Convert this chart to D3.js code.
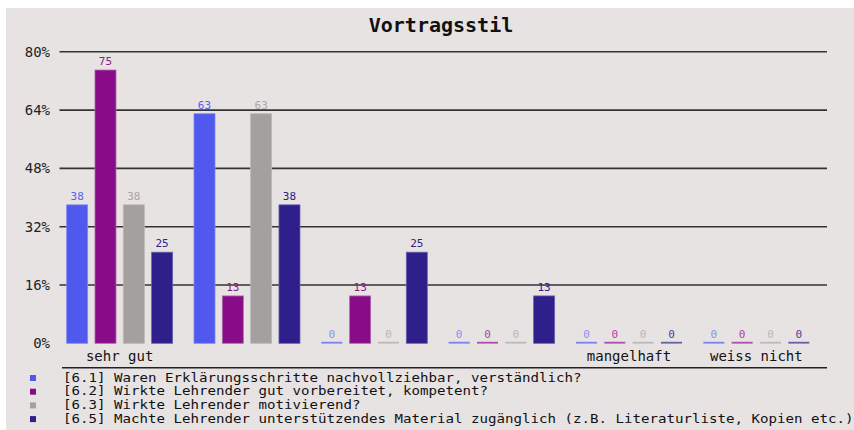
<!DOCTYPE html>
<html>
<head>
<meta charset="utf-8">
<script src="https://cdn.jsdelivr.net/npm/d3@7"></script>
<style>
  body { margin: 0; background: #fff; }
  svg { display: block; }
  text { font-family: "DejaVu Sans Mono", "Liberation Mono", monospace; }
</style>
</head>
<body>
<svg width="854" height="430"></svg>
<script>
var categories = ["sehr gut", "gut", "befriedigend", "ausreichend", "mangelhaft", "weiss nicht"];
var tickLabels = ["sehr gut", "", "", "", "mangelhaft", "weiss nicht"];
var seriesNames = [
  "[6.1] Waren Erklärungsschritte nachvollziehbar, verständlich?",
  "[6.2] Wirkte Lehrender gut vorbereitet, kompetent?",
  "[6.3] Wirkte Lehrender motivierend?",
  "[6.5] Machte Lehrender unterstützendes Material zugänglich (z.B. Literaturliste, Kopien etc.)?"
];
var values61 = [38, 63, 0, 0, 0, 0];
var values62 = [75, 13, 13, 0, 0, 0];
var values63 = [38, 63, 0, 0, 0, 0];
var values65 = [25, 38, 25, 13, 0, 0];
var yTicks = [0, 16, 32, 48, 64, 80];

var colors = ["#5058ee", "#880c88", "#a4a09f", "#2e1f8a"];
var strokes = ["#8088f2", "#b068b0", "#bcb8b8", "#6a62b0"];
var zeroColors = ["#7c82f2", "#aa50aa", "#bdbaba", "#6660aa"];
var labelColors = ["#5860ee", "#8a1a8a", "#aaa6a6", "#2e2088"];
var zeroLabelColors = ["#8a90f4", "#b040b0", "#bab6b6", "#4a40a0"];

var allValues = [values61, values62, values63, values65];
var series = seriesNames.map(function(name, i) {
  return {name: name, index: i, values: allValues[i]};
});

var svg = d3.select("svg");

svg.append("rect")
  .attr("x", 6).attr("y", 8)
  .attr("width", 848).attr("height", 422)
  .attr("fill", "#e7e3e3");

var y = d3.scaleLinear().domain([0, 80]).range([343.3, 51.8]);
var x0 = d3.scaleBand().domain(categories).range([63, 827]);
var x1 = d3.scaleBand().domain(d3.range(4)).range([0, 113.3])
  .paddingInner(0.258).paddingOuter(0.129);

// gridlines
svg.append("g").selectAll("line")
  .data(yTicks.filter(function(d) {return d > 0;}))
  .enter().append("line")
    .attr("x1", 59.5).attr("x2", 827)
    .attr("y1", function(d) {return y(d);})
    .attr("y2", function(d) {return y(d);})
    .attr("stroke", "#333")
    .attr("stroke-width", 1.6);

// y tick labels
svg.append("g").selectAll("text")
  .data(yTicks)
  .enter().append("text")
    .attr("x", 50)
    .attr("y", function(d) {return y(d);})
    .attr("dy", "0.36em")
    .attr("text-anchor", "end")
    .attr("font-size", 14)
    .attr("fill", "#222")
    .text(function(d) {return d + "%";});

// bars
var groups = svg.append("g").selectAll("g")
  .data(categories)
  .enter().append("g")
    .attr("transform", function(d) {return "translate(" + x0(d) + ",0)";});

groups.each(function(cat, ci) {
  var g = d3.select(this);
  var data = series.map(function(s) {return {s: s.index, v: s.values[ci]};});

  g.selectAll("rect")
    .data(data)
    .enter().append("rect")
      .attr("x", function(d) {return x1(d.s);})
      .attr("width", x1.bandwidth())
      .attr("y", function(d) {return d.v > 0 ? y(d.v) : y(0) - 1.5;})
      .attr("height", function(d) {return d.v > 0 ? y(0) - y(d.v) : 1.8;})
      .attr("fill", function(d) {return d.v > 0 ? colors[d.s] : zeroColors[d.s];})
      .attr("stroke", function(d) {return d.v > 0 ? strokes[d.s] : "none";})
      .attr("stroke-width", 0.8);

  g.selectAll("text")
    .data(data)
    .enter().append("text")
      .attr("x", function(d) {return x1(d.s) + x1.bandwidth() / 2;})
      .attr("y", function(d) {return y(d.v) - 5;})
      .attr("text-anchor", "middle")
      .attr("font-size", 11)
      .attr("fill", function(d) {return d.v > 0 ? labelColors[d.s] : zeroLabelColors[d.s];})
      .text(function(d) {return d.v;});
});

// x tick labels
svg.append("g").selectAll("text")
  .data(categories)
  .enter().append("text")
    .attr("x", function(d) {return x0(d) + 3.65 + 53;})
    .attr("y", 360.5)
    .attr("text-anchor", "middle")
    .attr("font-size", 14)
    .attr("fill", "#111")
    .text(function(d, i) {return tickLabels[i];});

// axis line
svg.append("line")
  .attr("x1", 62).attr("x2", 827)
  .attr("y1", 367.7).attr("y2", 367.7)
  .attr("stroke", "#222")
  .attr("stroke-width", 1.6);

// title
svg.append("text")
  .attr("x", 441).attr("y", 32)
  .attr("text-anchor", "middle")
  .attr("font-size", 20)
  .attr("font-weight", "bold")
  .attr("fill", "#111")
  .text("Vortragsstil");

// legend: wide, short glyphs like the original bitmap font
var legend = svg.append("g").selectAll("g")
  .data(series)
  .enter().append("g")
    .attr("transform", function(d, i) {return "translate(0," + (381.5 + i * 13.7) + ")";});
legend.append("rect")
  .attr("x", 30).attr("y", -6.5)
  .attr("width", 6).attr("height", 6)
  .attr("fill", function(d) {return colors[d.index];});
legend.append("text")
  .attr("x", 63).attr("y", 0)
  .attr("font-size", 11.5)
  .attr("textLength", function(d) {return d.name.length * 8.5;})
  .attr("lengthAdjust", "spacingAndGlyphs")
  .attr("fill", "#111")
  .text(function(d) {return d.name;});
</script>
</body>
</html>
